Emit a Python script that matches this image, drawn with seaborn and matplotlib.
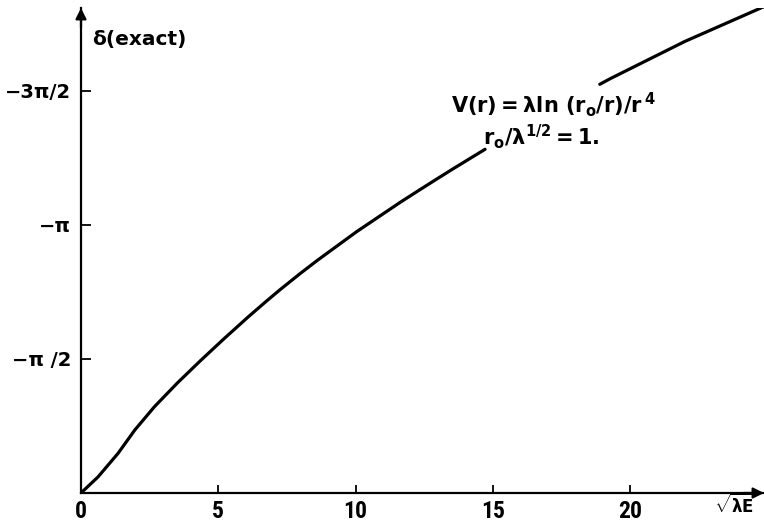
import numpy as np
import pandas as pd
import matplotlib
matplotlib.use("Agg")
import matplotlib.pyplot as plt
from matplotlib import font_manager
import seaborn as sns

# sqrt(lambda*E) sample points, curve broken where the formula sits
x_low = [0.0, 0.62, 1.35, 1.96, 2.68, 3.53, 4.38, 5.23, 6.08, 6.75, 7.25, 7.98,
         8.59, 10.04, 11.62, 12.35, 12.96, 13.56, 14.72]
# delta(exact) in units of pi/2 (negative phase shift)
d_low = [0.0, 0.12, 0.296, 0.47, 0.645, 0.825, 0.993, 1.155, 1.312, 1.431, 1.517, 1.637,
         1.733, 1.95, 2.168, 2.264, 2.343, 2.42, 2.565]
x_high = [18.9, 19.27, 22.0, 24.85]
d_high = [3.05, 3.091, 3.37, 3.627]

xticks = [0, 5, 10, 15, 20]
xtick_labels = ["0", "5", "10", "15", "20"]
yticks_halfpi = [1, 2, 3]
ytick_labels = ["\u2212\u03c0 /2", "\u2212\u03c0", "\u22123\u03c0/2"]

half_pi = np.pi / 2
seg1 = pd.DataFrame({"x": x_low, "delta": [-v * half_pi for v in d_low]})
seg2 = pd.DataFrame({"x": x_high, "delta": [-v * half_pi for v in d_high]})

sns.set_style("white")

available = {f.name for f in font_manager.fontManager.ttflist}
narrow = "Roboto Condensed" if "Roboto Condensed" in available else "DejaVu Sans"
plt.rcParams["font.family"] = ["DejaVu Sans"]
plt.rcParams["font.weight"] = "bold"
plt.rcParams["text.color"] = "black"
plt.rcParams["xtick.color"] = "black"
plt.rcParams["ytick.color"] = "black"
plt.rcParams["mathtext.fontset"] = "custom"
for key in ("rm", "it", "bf", "sf"):
    plt.rcParams["mathtext." + key] = "DejaVu Sans:bold"

W, H = 764, 522
fig = plt.figure(figsize=(W / 100, H / 100), dpi=100)
x0, y0, ytop = 81, 493, 8
ax = fig.add_axes([x0 / W, (H - y0) / H, (W - x0) / W, (y0 - ytop) / H])

px_per_x = 27.45
px_per_half_pi = 134.0
ax.set_xlim(0, (W - x0) / px_per_x)
ax.set_ylim(0, -((y0 - ytop) / px_per_half_pi) * half_pi)

for seg in (seg1, seg2):
    sns.lineplot(data=seg, x="x", y="delta", ax=ax, color="black",
                 linewidth=2.3, sort=False, estimator=None)

for s in ("top", "right"):
    ax.spines[s].set_visible(False)
for s in ("left", "bottom"):
    ax.spines[s].set_linewidth(1.6)
    ax.spines[s].set_color("black")

# arrow heads at the ends of both axes
arrow = dict(arrowstyle="-|>", color="black", lw=1.6, mutation_scale=16,
             shrinkA=0, shrinkB=0)
ax.annotate("", xy=(0, 1.0), xytext=(0, 0.96), xycoords="axes fraction",
            arrowprops=arrow, annotation_clip=False)
ax.annotate("", xy=(1.0, 0), xytext=(0.97, 0), xycoords="axes fraction",
            arrowprops=arrow, annotation_clip=False)

ax.set_xticks(xticks)
ax.set_xticklabels(xtick_labels, fontfamily=narrow, fontweight="bold")
ax.set_yticks([-v * half_pi for v in yticks_halfpi])
ax.set_yticklabels(ytick_labels)
ax.tick_params(axis="x", direction="in", length=6, width=1.3, pad=5,
               labelsize=17, bottom=True)
ax.tick_params(axis="y", direction="in", length=7, width=1.3, pad=7,
               labelsize=14, left=True)
ax.xaxis.get_major_ticks()[0].tick1line.set_visible(False)
ax.set_xlabel("")
ax.set_ylabel("")

ax.text((92 - x0) / (W - x0), (y0 - 40) / (y0 - ytop), "\u03b4(exact)",
        transform=ax.transAxes, ha="left", va="center", fontsize=14.5,
        fontweight="bold")
ax.text(0.99, -0.05, r"$\sqrt{\lambda E}$", ha="right", va="bottom",
        fontsize=12, transform=ax.transAxes)

ax.text(17.2, -2.896 * half_pi, r"$\mathrm{V(r)=\lambda ln\ (r_o/r)/r^{\,4}}$",
        ha="center", va="center", fontsize=15)
ax.text(16.76, -2.657 * half_pi, r"$\mathrm{r_o/\lambda^{1/2}=1.}$",
        ha="center", va="center", fontsize=15)

fig.savefig("out.png", dpi=100)
